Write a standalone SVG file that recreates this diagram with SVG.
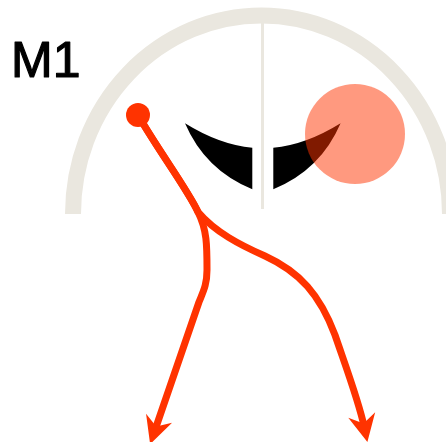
<svg xmlns="http://www.w3.org/2000/svg" xmlns:xlink="http://www.w3.org/1999/xlink" width="446" height="442" viewBox="0 0 446 442">
  <style>
    .gauge { fill: none; stroke: #EAE7DF; }
    .wire { fill: none; stroke: #FF3300; stroke-width: 7; stroke-linejoin: round; }
    .label { font-family: "Liberation Sans", Arial, sans-serif; font-size: 50px; fill: #000; stroke: #000; stroke-width: 1.2; stroke-linejoin: round; }
  </style>
  <defs>
    <marker id="head" markerUnits="userSpaceOnUse" markerWidth="30" markerHeight="30" viewBox="0 -12 24 24" refX="10" refY="0" orient="auto" overflow="visible">
      <path d="M22,0 L0,-11 L7,0 L0,11 Z" fill="#FF3300"/>
    </marker>
    <path id="eyeShape" d="M185,123.3 Q220,145 252.3,147.7 L252.3,189.3 Q205,170 185,123.3 Z" fill="#000"/>
  </defs>
  <rect width="446" height="442" fill="#fff"/>

  <g id="gauge">
    <path class="gauge" stroke-width="16" d="M73,214 A188.5,198.5 0 0 1 450,214"/>
    <line class="gauge" stroke-width="3" x1="262.5" y1="23" x2="262.5" y2="209"/>
  </g>

  <g id="label">
    <text class="label" x="11" y="77">M1</text>
  </g>

  <g id="eye-left">
    <use xlink:href="#eyeShape"/>
  </g>
  <g id="eye-right">
    <use xlink:href="#eyeShape" transform="translate(525.6,0) scale(-1,1)"/>
  </g>

  <g id="target">
    <circle cx="355" cy="134" r="50" fill="#FF3300" fill-opacity="0.5"/>
  </g>

  <g id="connectors">
    <path class="wire" marker-end="url(#head)" d="M138,115 C158,150 188,190 198,212 C207,230 207,245 207,270 C207,285 203,292 199,302 L155,430"/>
    <path class="wire" marker-end="url(#head)" d="M138,115 C158,150 188,190 198,212 C215,232 240,245 265,256 C300,272 320,295 335,335 C347,370 359,402 364.3,427.2"/>
  </g>

  <g id="ball">
    <circle cx="138" cy="115" r="12" fill="#FF3300"/>
  </g>
</svg>
